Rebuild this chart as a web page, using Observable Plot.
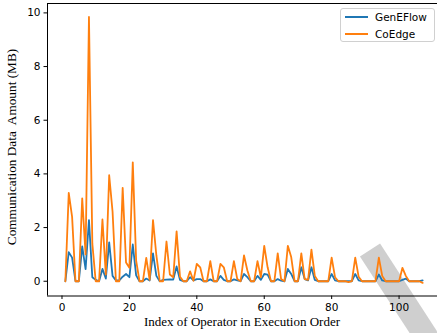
<!DOCTYPE html>
<html>
<head>
<meta charset="utf-8">
<script src="https://cdn.jsdelivr.net/npm/d3@7"></script>
<script src="https://cdn.jsdelivr.net/npm/@observablehq/plot@0.6"></script>
<style>
  html, body { margin: 0; padding: 0; background: #fff; overflow: hidden; }
  #wrap { position: relative; width: 437px; height: 333px; }
  #wm { position: absolute; left: 358px; top: 250px; width: 24px; height: 150px;
        background: #cfcfcf; transform-origin: 50% 0; transform: rotate(-33deg); z-index: 0; }
  #chart { position: absolute; left: 0; top: 0; z-index: 1; }
  .lab { position: absolute; font-family: "Liberation Serif", "Times New Roman", serif; font-size: 13px; color: #000; white-space: pre; z-index: 2; }
  #xlab { left: 0; width: 484px; text-align: center; top: 314px; }
  #ylab { left: 12px; top: 147px; font-size: 13.3px; transform: translate(-50%, -50%) rotate(-90deg); }
  #legend { position: absolute; left: 340px; top: 8px; width: 95px; height: 34px; box-sizing: border-box;
            border: 1px solid #d0d0d0; border-radius: 3px; background: rgba(255,255,255,0.85); z-index: 3;
            font-family: "DejaVu Sans", sans-serif; font-size: 10.5px; }
  .li { position: absolute; left: 4px; height: 14px; display: flex; align-items: center; }
  .sw { width: 23px; height: 2px; margin-right: 7px; }
</style>
</head>
<body>
<div id="wrap">
  <div id="wm"></div>
  <div id="chart"></div>
  <div id="ylab" class="lab">Communication Data  Amount (MB)</div>
  <div id="xlab" class="lab">Index of Operator in Execution Order</div>
  <div id="legend"></div>
</div>
<script>
const seriesNames = ["GenEFlow", "CoEdge"];
const seriesColors = ["#1f77b4", "#ff7f0e"];
const xTicks = [0, 20, 40, 60, 80, 100];
const yTicks = [0, 2, 4, 6, 8, 10];

const geneflow = [
  0, 1.08, 0.88, 0, 0, 1.3, 0.45, 2.28, 0.15, 0.05,
  0, 0.46, 0.1, 1.45, 0.2, 0.03, 0.03, 0.17, 0.27, 0.15,
  1.37, 0.22, 0, 0, 0.1, 0.03, 1.04, 0.2, 0, 0.05,
  0.06, 0.07, 0.06, 0.55, 0.05, 0, 0, 0.15, 0.03, 0.08,
  0.08, 0, 0, 0.07, 0, 0, 0.2, 0.05, 0, 0,
  0.07, 0.03, 0, 0.27, 0.15, 0, 0, 0.2, 0.05, 0.27,
  0.25, 0, 0, 0.08, 0.02, 0, 0.46, 0.27, 0, 0,
  0.52, 0.08, 0.03, 0.52, 0.05, 0, 0, 0, 0, 0.27,
  0.03, 0, 0, 0, 0, 0, 0.27, 0.03, 0, 0,
  0, 0, 0, 0.25, 0.03, 0, 0, 0, 0, 0,
  0.05, 0.1, 0, 0, 0, 0, 0.03
];
const coedge = [
  0, 3.29, 2.4, 0, 0, 3.09, 1.0, 9.85, 1.4, 0,
  0, 2.3, 0.25, 3.95, 2.6, 0, 0, 3.48, 0.7, 0.5,
  4.43, 0.77, 0, 0, 0.87, 0.05, 2.28, 0.96, 0, 0,
  1.48, 0.25, 0.15, 1.86, 0.17, 0, 0, 0.37, 0.02, 0.65,
  0.52, 0, 0, 0.75, 0, 0, 0.65, 0.52, 0, 0,
  0.75, 0.08, 0, 0.96, 0.4, 0, 0, 0.75, 0.15, 1.32,
  0.52, 0, 0, 1.04, 0.08, 0, 1.32, 0.9, 0, 0,
  1.04, 0.08, 0.05, 1.18, 0.2, 0, 0, 0, 0, 0.88,
  0.15, 0, 0, 0, -0.03, 0, 0.88, 0.17, 0, 0,
  0, 0, 0, 0.88, 0.2, 0, 0, 0, 0, 0,
  0.5, 0.2, 0, 0, 0, 0, -0.06
];
const opIndex = geneflow.map((_, i) => i + 1);

const rows = [];
[geneflow, coedge].forEach((arr, s) => arr.forEach((v, i) => rows.push({x: opIndex[i], y: v, s: seriesNames[s]})));

const xDomain = [-4.3, 111.4];
const yDomain = [-0.55, 10.35];

const chart = Plot.plot({
  width: 437,
  height: 333,
  marginLeft: 47,
  marginRight: 0,
  marginTop: 3,
  marginBottom: 37.5,
  style: {background: "transparent", fontFamily: "DejaVu Sans, sans-serif", fontSize: "10.5px", color: "#000"},
  x: {domain: xDomain},
  y: {domain: yDomain},
  color: {domain: seriesNames, range: seriesColors},
  marks: [
    Plot.line(rows, {x: "x", y: "y", z: "s", stroke: "s", strokeWidth: 1.8, strokeLinejoin: "round"}),
    Plot.ruleX([xDomain[0]], {stroke: "#000", strokeWidth: 1}),
    Plot.ruleY([yDomain[0], yDomain[1]], {stroke: "#000", strokeWidth: 1}),
    Plot.axisX({ticks: xTicks, tickSize: 3.5, tickPadding: 4, label: null, fontSize: 10.5}),
    Plot.axisY({ticks: yTicks, tickSize: 3.5, tickPadding: 3.5, label: null, fontSize: 10.5})
  ]
});
document.getElementById("chart").appendChild(chart);

const legend = document.getElementById("legend");
seriesNames.forEach((n, i) => {
  const d = document.createElement("div");
  d.className = "li";
  d.style.top = (i === 0 ? 1 : 18) + "px";
  const sw = document.createElement("div");
  sw.className = "sw";
  sw.style.background = seriesColors[i];
  d.appendChild(sw);
  d.appendChild(document.createTextNode(n));
  legend.appendChild(d);
});
</script>
</body>
</html>
